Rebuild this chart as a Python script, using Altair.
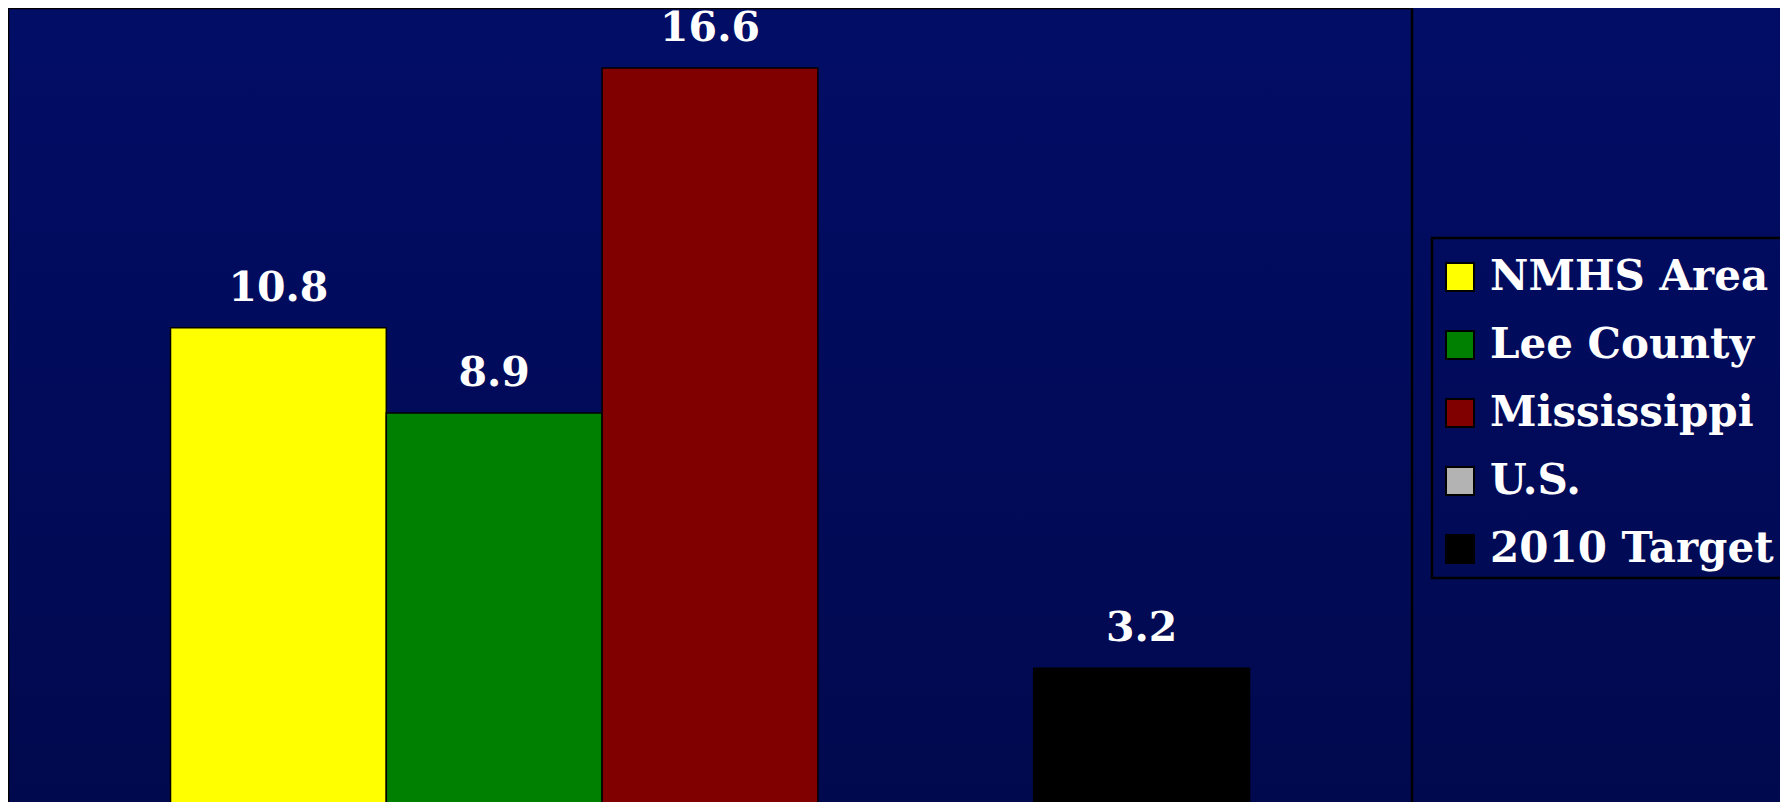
import altair as alt
import pandas as pd

categories = ["NMHS Area", "Lee County", "Mississippi", "U.S.", "2010 Target"]
values = [10.8, 8.9, 16.6, None, 3.2]
colors = ["#ffff00", "#008000", "#800000", "#b3b3b3", "#000000"]

df = pd.DataFrame({"category": categories, "value": values})

PLOT_W = 1404
TOTAL_W = 1772
TOTAL_H = 794

x_enc = alt.X("category:N", sort=categories,
              scale=alt.Scale(domain=categories, paddingInner=0, paddingOuter=0.753),
              axis=None)
y_scale = alt.Scale(domain=[0, 17.94], range=[803.5, 0])

bg = alt.Chart(pd.DataFrame({"a": [0]})).mark_rect(
    fill=alt.LinearGradient(
        gradient="linear",
        stops=[alt.GradientStop(offset=0, color="#020d66"),
               alt.GradientStop(offset=1, color="#01094e")],
        x1=0, x2=0, y1=0, y2=1),
).encode(x=alt.value(0), x2=alt.value(TOTAL_W), y=alt.value(0), y2=alt.value(TOTAL_H))

frame = alt.Chart(pd.DataFrame({"a": [0]})).mark_rect(
    filled=False, stroke="black", strokeWidth=2.5
).encode(x=alt.value(0), x2=alt.value(PLOT_W), y=alt.value(0), y2=alt.value(840))

legend_box = alt.Chart(pd.DataFrame({"a": [0]})).mark_rect(
    filled=False, stroke="black", strokeWidth=2.5
).encode(x=alt.value(1424), x2=alt.value(1800), y=alt.value(230), y2=alt.value(570))

bars = alt.Chart(df).mark_bar(stroke="black", strokeWidth=1.5).encode(
    x=x_enc,
    y=alt.Y("value:Q", scale=y_scale, axis=None),
    color=alt.Color(
        "category:N",
        scale=alt.Scale(domain=categories, range=colors),
        legend=alt.Legend(
            title=" ",
            titleFontSize=2,
            titlePadding=9,
            orient="none",
            legendX=1424,
            legendY=230,
            direction="vertical",
            padding=7,
            symbolType="square",
            symbolSize=784,
            symbolStrokeColor="black",
            symbolStrokeWidth=2,
            symbolOpacity=1,
            labelFont="DejaVu Serif",
            labelFontSize=42,
            labelFontWeight="bold",
            labelColor="white",
            labelOffset=9,
            labelLimit=400,
            rowPadding=26,
        ),
    ),
)

labels = alt.Chart(df).transform_filter("isValid(datum.value)").mark_text(
    font="DejaVu Serif", fontSize=41, fontWeight="bold", color="white",
    baseline="alphabetic", dy=-27,
).encode(
    x=x_enc,
    y=alt.Y("value:Q", scale=y_scale, axis=None),
    text=alt.Text("value:Q", format=".1f"),
)

chart = alt.layer(bg, frame, legend_box, bars, labels).properties(
    width=PLOT_W,
    height=TOTAL_H,
    autosize=alt.AutoSizeParams(type="none"),
    padding={"left": 0, "top": 0, "right": TOTAL_W - PLOT_W, "bottom": 0},
    background="#01094f",
).configure_view(stroke=None)

chart.save("out.html", embed_options={"renderer": "svg", "actions": False})
